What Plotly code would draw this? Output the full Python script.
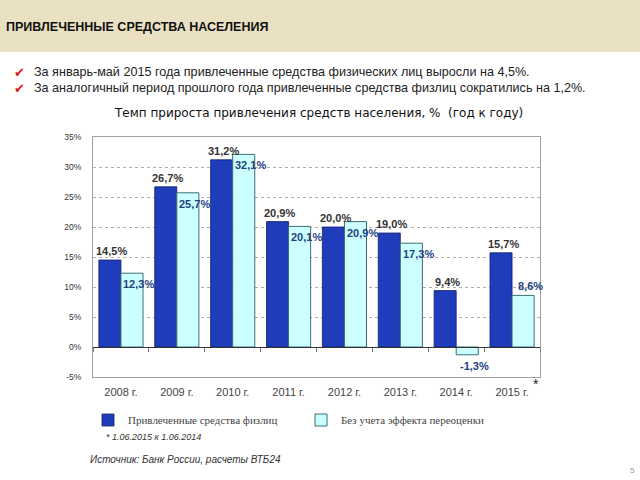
import plotly.graph_objects as go

categories = ["2008 г.", "2009 г.", "2010 г.", "2011 г.", "2012 г.", "2013 г.", "2014 г.", "2015 г."]
attracted = [14.5, 26.7, 31.2, 20.9, 20.0, 19.0, 9.4, 15.7]
no_reval = [12.3, 25.7, 32.1, 20.1, 20.9, 17.3, -1.3, 8.6]
attracted_labels = ["14,5%", "26,7%", "31,2%", "20,9%", "20,0%", "19,0%", "9,4%", "15,7%"]
no_reval_labels = ["12,3%", "25,7%", "32,1%", "20,1%", "20,9%", "17,3%", "-1,3%", "8,6%"]
ytick_vals = [-5, 0, 5, 10, 15, 20, 25, 30, 35]
ytick_text = ["-5%", "0%", "5%", "10%", "15%", "20%", "25%", "30%", "35%"]
series_names = ["Привлеченные средства физлиц", "Без учета эффекта переоценки"]

W, H = 640, 480
L, R, T, B = 93, 100, 137, 103
PW, PH = W - L - R, H - T - B

def px(x):
    return (x - L) / PW

def py(y):
    return (H - B - y) / PH

fig = go.Figure()
fig.add_trace(go.Bar(x=categories, y=attracted, name=series_names[0],
                     marker=dict(color="#1f3cba", line=dict(color="#0d1f6e", width=0.8))))
fig.add_trace(go.Bar(x=categories, y=no_reval, name=series_names[1],
                     marker=dict(color="#ccffff", line=dict(color="#3d6e6e", width=1))))
fig.add_trace(go.Scatter(x=categories, y=[None] * len(categories), xaxis="x2",
                         showlegend=False, hoverinfo="skip", mode="markers"))

ann = []
for c, v, t in zip(categories, attracted, attracted_labels):
    ann.append(dict(x=c, y=v, xref="x", yref="y", text="<b>%s</b>" % t, showarrow=False,
                    xshift=-9, yshift=9, font=dict(family="Liberation Sans", size=11, color="#333333")))
for c, v, t in zip(categories, no_reval, no_reval_labels):
    ys = 9 if t == "8,6%" else -11
    ann.append(dict(x=c, y=v, xref="x", yref="y", text="<b>%s</b>" % t, showarrow=False,
                    xshift=18, yshift=ys, font=dict(family="Liberation Sans", size=11, color="#23437f")))

ann += [
    dict(x=px(4), y=py(27), xref="paper", yref="paper", xanchor="left", yanchor="middle",
         text="<b>ПРИВЛЕЧЕННЫЕ СРЕДСТВА НАСЕЛЕНИЯ</b>", showarrow=False,
         font=dict(family="Liberation Sans", size=12.5, color="#111111")),
    dict(x=px(12), y=py(72), xref="paper", yref="paper", xanchor="left", yanchor="middle",
         text="✔", showarrow=False, font=dict(family="DejaVu Sans", size=13, color="#d42020")),
    dict(x=px(12), y=py(88), xref="paper", yref="paper", xanchor="left", yanchor="middle",
         text="✔", showarrow=False, font=dict(family="DejaVu Sans", size=13, color="#d42020")),
    dict(x=px(32), y=py(72), xref="paper", yref="paper", xanchor="left", yanchor="middle",
         text="За январь-май 2015 года привлеченные средства физических лиц выросли на 4,5%.",
         showarrow=False, font=dict(family="Liberation Sans", size=12.6, color="#222222")),
    dict(x=px(32), y=py(88), xref="paper", yref="paper", xanchor="left", yanchor="middle",
         text="За аналогичный период прошлого года привлеченные средства физлиц сократились на 1,2%.",
         showarrow=False, font=dict(family="Liberation Sans", size=12.6, color="#222222")),
    dict(x=px(318), y=py(113), xref="paper", yref="paper", xanchor="center", yanchor="middle",
         text="Темп прироста привлечения средств населения, %  (год к году)",
         showarrow=False, font=dict(family="DejaVu Sans", size=12, color="#111111")),
    dict(x=px(536), y=py(384), xref="paper", yref="paper", xanchor="center", yanchor="middle",
         text="*", showarrow=False, font=dict(family="Liberation Sans", size=14, color="#222222")),
    dict(x=px(104), y=py(437), xref="paper", yref="paper", xanchor="left", yanchor="middle",
         text="<i>* 1.06.2015 к 1.06.2014</i>", showarrow=False,
         font=dict(family="Liberation Sans", size=9, color="#333333")),
    dict(x=px(88), y=py(459), xref="paper", yref="paper", xanchor="left", yanchor="middle",
         text="<i>Источник: Банк России, расчеты ВТБ24</i>", showarrow=False,
         font=dict(family="Liberation Sans", size=10, color="#333333")),
    dict(x=px(632), y=py(470), xref="paper", yref="paper", xanchor="center", yanchor="middle",
         text="5", showarrow=False, font=dict(family="Liberation Sans", size=8, color="#999999")),
]

shapes = [
    dict(type="rect", xref="paper", yref="paper", x0=px(0), x1=px(W), y0=py(0), y1=py(52),
         fillcolor="#e9e1c1", line=dict(width=0), layer="below"),
]

fig.update_layout(
    width=W, height=H,
    margin=dict(l=L, r=R, t=T, b=B, autoexpand=False),
    paper_bgcolor="white", plot_bgcolor="white",
    barmode="group", bargap=0.21, bargroupgap=0,
    showlegend=True,
    legend=dict(orientation="h", xref="container", yref="container", x=88 / W, y=1 - 420 / H,
                xanchor="left", yanchor="middle", entrywidth=168, entrywidthmode="pixels",
                font=dict(family="Liberation Serif", size=11, color="#444444"),
                itemwidth=30, tracegroupgap=0),
    xaxis=dict(type="category", categoryarray=categories, range=[-0.5, 7.5],
               showline=True, linecolor="#a0a0a0", mirror=True, ticks="",
               ticklabelstandoff=5, automargin=False,
               tickfont=dict(family="Liberation Sans", size=11, color="#444444"),
               showgrid=False),
    xaxis2=dict(type="category", categoryarray=categories, range=[-0.5, 7.5], overlaying="x",
                anchor="free", position=0.125, showline=True, linecolor="#333333", linewidth=1,
                ticks="outside", tickson="boundaries", ticklen=4, tickcolor="#777777",
                showticklabels=False, showgrid=False, layer="above traces", automargin=False),
    yaxis=dict(range=[-5, 35], tickvals=ytick_vals, ticktext=ytick_text,
               showline=True, linecolor="#a0a0a0", mirror=True,
               showgrid=True, gridcolor="#b0b0b0", griddash="dot", gridwidth=1,
               zeroline=False, ticks="", ticklabelstandoff=9, automargin=False,
               tickfont=dict(family="Liberation Sans", size=8.5, color="#333333")),
    annotations=ann,
    shapes=shapes,
)

fig.write_html("out.html")
